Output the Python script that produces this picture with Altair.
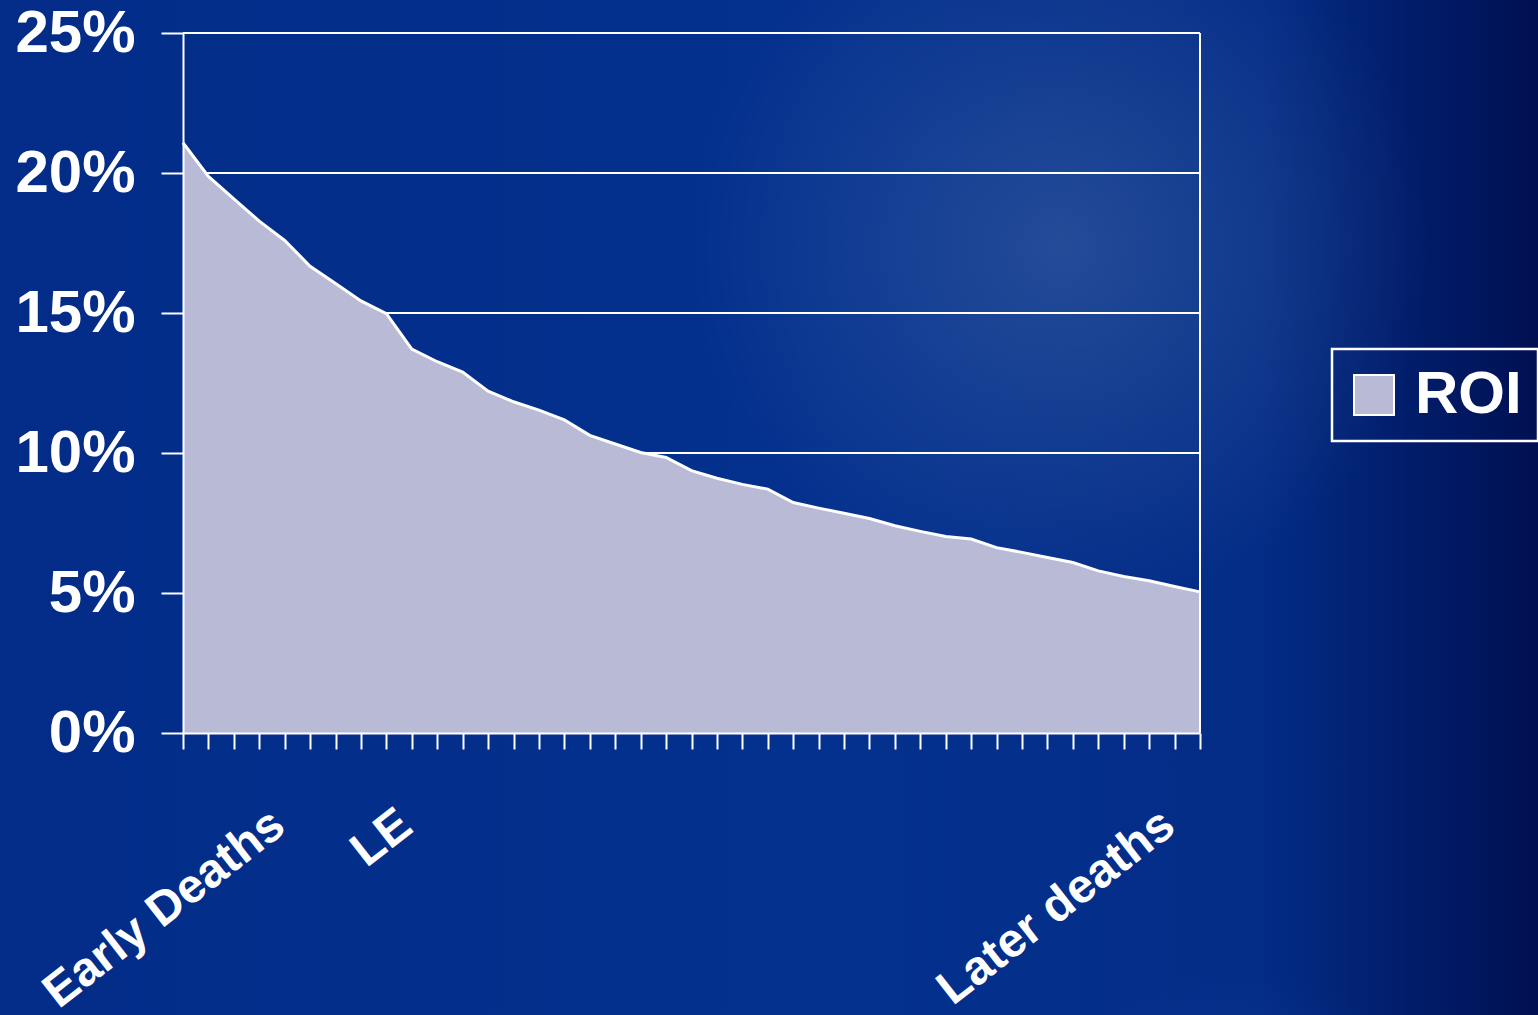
import altair as alt
import pandas as pd

# Return on investment by category, ordered from early deaths to later deaths
positions = list(range(41))
roi = [21.08, 19.88, 19.08, 18.28, 17.59, 16.67, 16.05, 15.43, 14.98, 13.71,
       13.26, 12.89, 12.21, 11.83, 11.53, 11.18, 10.63, 10.32, 10.02, 9.84,
       9.37, 9.10, 8.88, 8.71, 8.23, 8.03, 7.85, 7.66, 7.40, 7.20,
       7.02, 6.93, 6.62, 6.45, 6.27, 6.09, 5.79, 5.59, 5.44, 5.23, 5.04]
series_name = "ROI"
y_ticks = [0, 5, 10, 15, 20, 25]
category_labels = {4: "Early Deaths", 9: "LE", 39: "Later deaths"}

W, H = 1538, 1015
LEFT, TOP, PLOT_W, PLOT_H = 183, 33, 1017, 700

FONT = "Liberation Sans"
AREA_COLOR = "#B9BAD5"

df = pd.DataFrame({"x": positions, "y": roi, "series": series_name})
grid_df = pd.DataFrame({"y": y_ticks[1:]})
border_df = pd.DataFrame({"x": [positions[-1]]})
one = pd.DataFrame({"k": [0]})

label_expr = " : ".join(
    f"datum.value == {k} ? '{v}'" for k, v in category_labels.items()
) + " : ''"

xscale = alt.Scale(domain=[positions[0], positions[-1]], nice=False, zero=False)
yscale = alt.Scale(domain=[y_ticks[0], y_ticks[-1]], nice=False)

xaxis = alt.Axis(
    values=positions, labelExpr=label_expr, labelAngle=-38, labelAlign="right",
    labelBaseline="middle", labelFontSize=48, labelFont=FONT, labelFontWeight="bold",
    labelColor="white", labelPadding=70, labelOffset=-6, labelOverlap=False,
    labelFlush=False, labelLimit=0, tickSize=16, tickColor="white", tickWidth=2,
    domainColor="white", domainWidth=2, grid=False, title=None, zindex=2,
)
yaxis = alt.Axis(
    values=y_ticks, labelExpr="datum.value + '%'", labelFontSize=60, labelFont=FONT,
    labelFontWeight="bold", labelColor="white", labelPadding=26, tickSize=22,
    tickColor="white", tickWidth=2, domainColor="white", domainWidth=2,
    grid=False, title=None, zindex=2,
)

X = alt.X("x:Q", scale=xscale, axis=xaxis)
Y = alt.Y("y:Q", scale=yscale, axis=yaxis)

# Slide-style blue backdrop
base_gradient = {
    "gradient": "linear", "x1": 0, "y1": 0, "x2": 1, "y2": 0,
    "stops": [
        {"offset": 0.0, "color": "#022C88"},
        {"offset": 0.55, "color": "#04318E"},
        {"offset": 0.82, "color": "#032C86"},
        {"offset": 1.0, "color": "#001052"},
    ],
}
haze = {
    "gradient": "radial", "x1": 0.69, "y1": 0.33, "r1": 0,
    "x2": 0.69, "y2": 0.33, "r2": 0.24,
    "stops": [
        {"offset": 0.0, "color": "rgba(75,110,170,0.45)"},
        {"offset": 1.0, "color": "rgba(75,110,170,0)"},
    ],
}
glow = {
    "gradient": "radial", "x1": 0.8, "y1": 0.95, "r1": 0,
    "x2": 0.8, "y2": 0.95, "r2": 0.15,
    "stops": [
        {"offset": 0.0, "color": "rgba(30,80,180,0.4)"},
        {"offset": 1.0, "color": "rgba(30,80,180,0)"},
    ],
}


def backdrop(fill):
    return alt.Chart(one).mark_rect(fill=fill).encode(
        x=alt.value(-LEFT), x2=alt.value(W - LEFT),
        y=alt.value(-TOP), y2=alt.value(H - TOP),
    )


grid = alt.Chart(grid_df).mark_rule(color="white", strokeWidth=2).encode(y=Y)

area = alt.Chart(df).mark_area(opacity=1).encode(
    x=X, y=Y,
    color=alt.Color(
        "series:N",
        scale=alt.Scale(domain=[series_name], range=[AREA_COLOR]),
        legend=alt.Legend(orient="none", legendX=1149, legendY=316, title=None),
    ),
)
line = alt.Chart(df).mark_line(color="white", strokeWidth=3).encode(x=X, y=Y)
border = alt.Chart(border_df).mark_rule(color="white", strokeWidth=2).encode(x=X)

chart = alt.layer(
    backdrop(base_gradient), backdrop(haze), backdrop(glow), grid, area, line, border
).properties(
    width=PLOT_W, height=PLOT_H,
    padding={"left": LEFT, "top": TOP, "right": W - LEFT - PLOT_W, "bottom": H - TOP - PLOT_H},
    autosize=alt.AutoSizeParams(type="none"),
    background="#022C88",
).configure_view(
    strokeWidth=0
).configure_legend(
    symbolType="square", symbolSize=1600, symbolStrokeColor="white",
    symbolStrokeWidth=2, symbolOffset=-4, labelFontSize=60, labelFont=FONT,
    labelFontWeight="bold", labelColor="white", labelOffset=11, padding=16,
    strokeColor="white", strokeWidth=2.5,
)

chart.save("out.html", embed_options={"renderer": "svg", "actions": False})
